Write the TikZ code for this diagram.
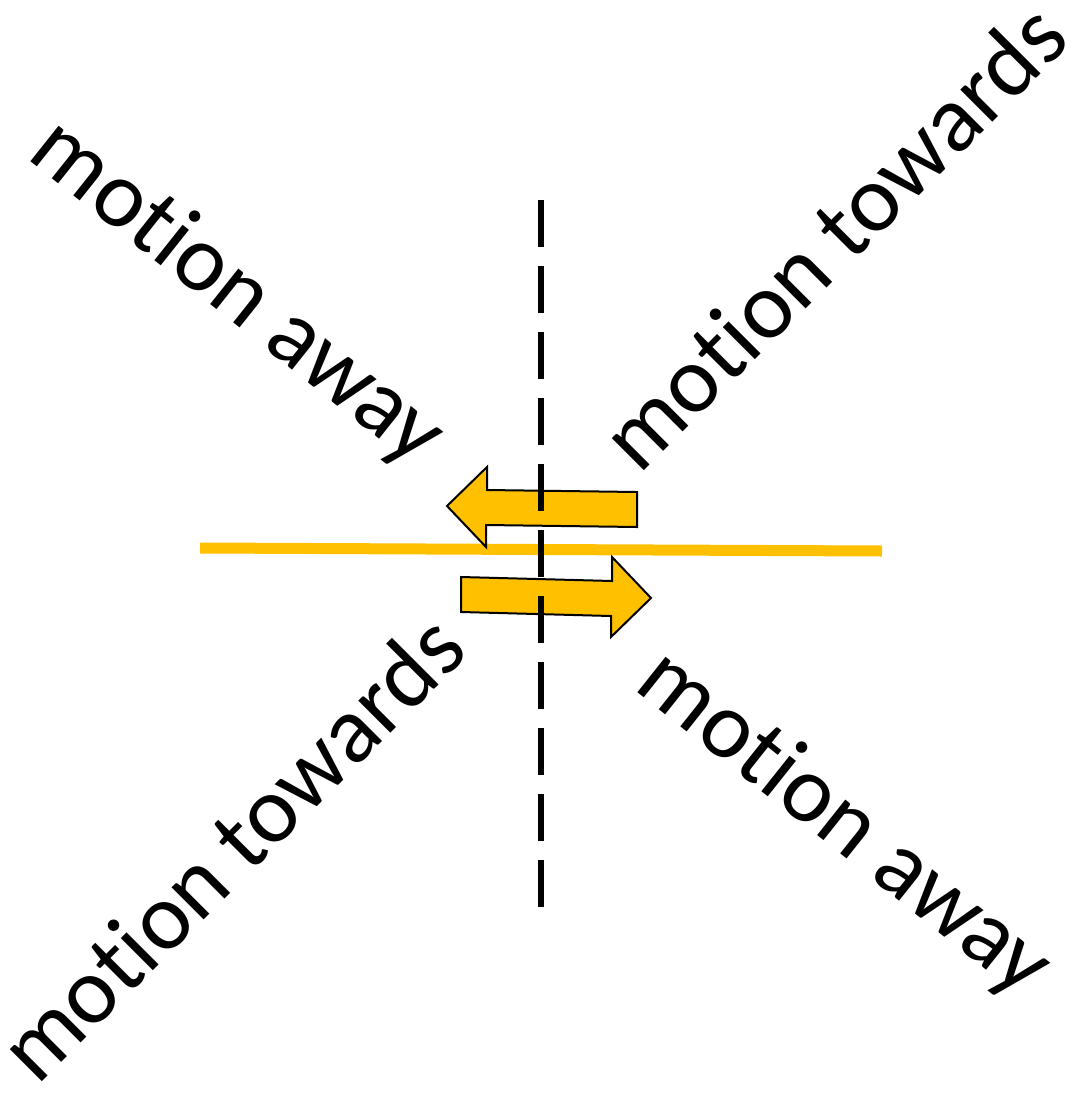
\documentclass[tikz,border=0pt]{standalone}
\usepackage{fontspec}
\setmainfont{Carlito}[Ligatures=NoCommon]
\definecolor{amber}{HTML}{FFC000}
\begin{document}
\begin{tikzpicture}[x=1pt,y=-1pt,
  lbl/.style={inner sep=0pt,anchor=base west,font=\fontsize{95}{95}\selectfont,text=black},
  arrowshape/.style={fill=amber,draw=black,line width=2pt,line join=miter},
  axisline/.style={draw=black,line width=6pt,dash pattern=on 47pt off 19pt},
  ground/.style={draw=amber,line width=11pt}]
\useasboundingbox (0,0) rectangle (1076,1095);
% horizontal yellow line
\coordinate (gL) at (200,548);
\coordinate (gR) at (882,551);
\draw[ground] (gL) -- (gR);
% upper arrow (pointing left)
\draw[arrowshape] (487,467) -- (447,506) -- (486,547) -- (486,525) -- (637,527) -- (637,492) -- (487,490) -- cycle;
% lower arrow (pointing right)
\draw[arrowshape] (461,577) -- (612,581) -- (612,557) -- (651,598) -- (611,637) -- (611,616) -- (461,612) -- cycle;
% dashed vertical line
\coordinate (vT) at (541,200);
\coordinate (vB) at (541,908);
\draw[axisline] (vT) -- (vB);
% labels
\node[lbl,rotate=-38.5] (awayTL) at (25.5,157.7) {motion away};
\node[lbl,rotate=45] (towardsTR) at (639,476) {motion towards};
\node[lbl,rotate=45] (towardsBL) at (37,1087) {motion towards};
\node[lbl,rotate=-38.5] (awayBR) at (632.5,688.7) {motion away};
\end{tikzpicture}
\end{document}
